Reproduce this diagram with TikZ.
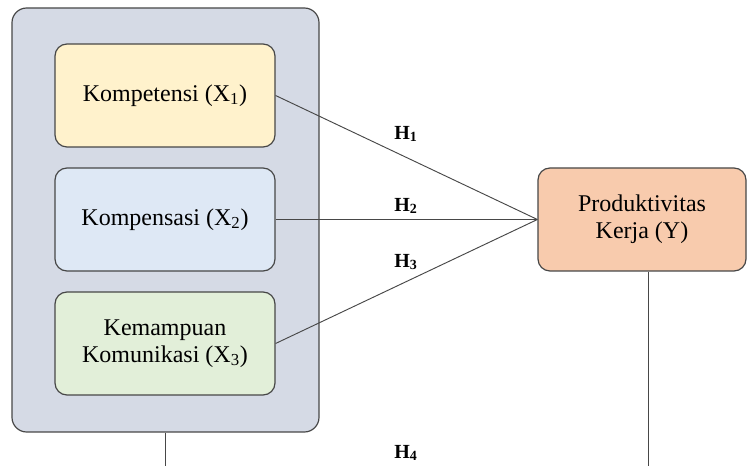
\documentclass[tikz,border=0pt]{standalone}
\usepackage{fontspec}
\setmainfont{Liberation Serif}
\usepackage{tikz}
\usetikzlibrary{positioning, shapes, arrows}

\definecolor{outerfill}{HTML}{D5DAE5}
\definecolor{kfill}{HTML}{FFF2CC}
\definecolor{cfill}{HTML}{DEE8F5}
\definecolor{mfill}{HTML}{E2EFD9}
\definecolor{yfill}{HTML}{F8CBAD}
\definecolor{edge}{HTML}{474747}

\tikzset{
  var/.style={draw=edge, line width=0.9pt, rounded corners=9pt, align=center,
    minimum width=165pt, minimum height=77.25pt,
    font=\fontsize{18}{20.25}\selectfont},
  hyp/.style={font=\fontsize{15}{17}\selectfont\bfseries},
  link/.style={draw=edge, line width=0.7pt}
}

\begin{document}
\begin{tikzpicture}[x=0.75pt, y=-0.75pt]
  \useasboundingbox (0,0) rectangle (747,466);
  \node[draw=edge, line width=0.9pt, fill=outerfill, rounded corners=11pt,
    minimum width=230.25pt, minimum height=318pt] (g) at (165.5,220) {};
  \node[var, fill=kfill] (x1) at (165,95.5) {Kompetensi (X\textsubscript{1})};
  \node[var, fill=cfill] (x2) at (165,219.5) {Kompensasi (X\textsubscript{2})};
  \node[var, fill=mfill] (x3) at (165,343.5) {Kemampuan\\Komunikasi (X\textsubscript{3})};
  \node[var, fill=yfill, minimum width=156pt] (y) at (642,219.5) {Produktivitas\\Kerja (Y)};
 \node[hyp] (h1) at (406,134) {H\textsubscript{1}};
 \node[hyp] (h2) at (406,206) {H\textsubscript{2}};
 \node[hyp] (h3) at (406,262) {H\textsubscript{3}};
 \node[hyp] (h4) at (406,453) {H\textsubscript{4}};
  \coordinate (gb) at (165.5,466);
  \coordinate (yb) at (648,466);
  \draw[link] (x1.east) -- (y.west);
  \draw[link] (x2.east) -- (y.west);
  \draw[link] (x3.east) -- (y.west);
  \draw[link] (g.south) -- (gb);
  \draw[link] (yb |- y.south) -- (yb);
\end{tikzpicture}
\end{document}
